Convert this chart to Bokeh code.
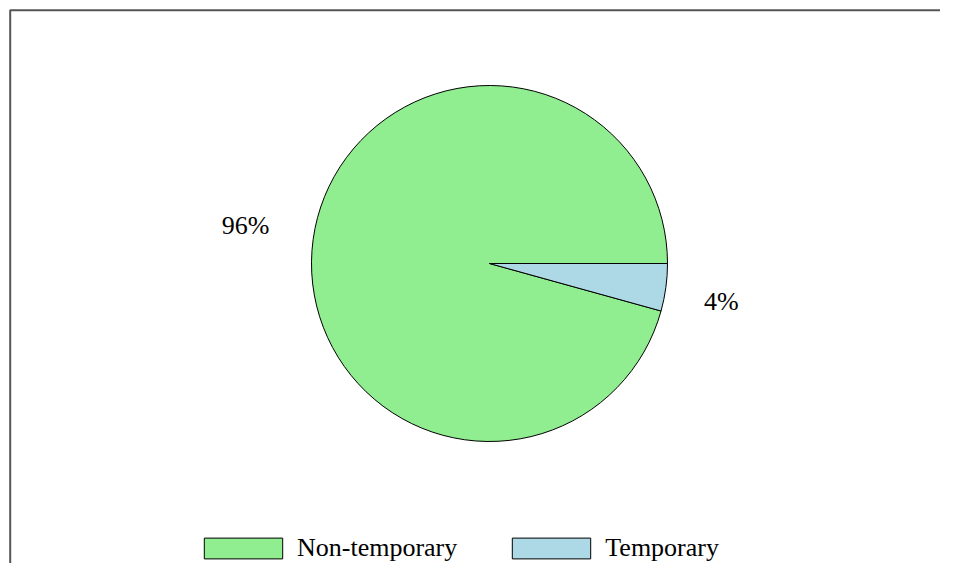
import math
from bokeh.plotting import figure
from bokeh.models import ColumnDataSource, Range1d, BoxAnnotation, Legend, LegendItem
from bokeh.core.properties import value
from bokeh.embed import file_html
from bokeh.resources import INLINE

categories = ["Non-temporary", "Temporary"]
values = [95.7, 4.3]
colors = ["#90EE90", "#ADD8E6"]

W, H = 940, 563
CX, CY = 489, 263          # pie centre in plot pixels (from left / top)
R = 178
LABEL_RX, LABEL_RY = 240, 280
FONT = "Liberation Serif"

total = float(sum(values))
starts, ends, mids = [], [], []
acc = 0.0
for v in values:
    a0 = 2 * math.pi * acc / total
    acc += v
    a1 = 2 * math.pi * acc / total
    starts.append(a0)
    ends.append(a1)
    mids.append((a0 + a1) / 2)

labels = ["%d%%" % round(100 * v / total) for v in values]
lx = [LABEL_RX * math.cos(m) for m in mids]
ly = [LABEL_RY * math.sin(m) for m in mids]

src = ColumnDataSource(dict(cat=categories, val=values, color=colors,
                            start=starts, end=ends, lx=lx, ly=ly, label=labels))

x0, x1 = -CX, W - CX
y1, y0 = CY, CY - H

p = figure(width=W, height=H, x_range=Range1d(x0, x1), y_range=Range1d(y0, y1),
           output_backend="svg", toolbar_location=None, min_border=0,
           match_aspect=False)
p.axis.visible = False
p.grid.visible = False
p.outline_line_color = None
p.background_fill_color = "white"

# page border: only top and left edges fall inside the window
p.add_layout(BoxAnnotation(left=x0 + 9.7, top=y1 - 9.7, right=x1 + 50, bottom=y0 - 50,
                           fill_alpha=0, line_color="#555555", line_alpha=1.0,
                           line_width=2))

wedges = p.wedge(x=0, y=0, radius=R, start_angle="start", end_angle="end",
                 fill_color="color", line_color="black", line_width=1, source=src)

p.text(x="lx", y="ly", text="label", source=src, text_align="center",
       text_baseline="middle", text_font=value(FONT), text_font_size="26px",
       text_color="black", x_offset=-6)

items = [LegendItem(label=c, renderers=[wedges], index=i) for i, c in enumerate(categories)]
legend = Legend(items=items, orientation="horizontal", location=(194, 0),
                glyph_width=98, glyph_height=26, label_standoff=5, spacing=45,
                label_text_font=FONT, label_text_font_size="26px",
                label_text_color="black", margin=0, padding=0,
                border_line_color=None, background_fill_alpha=0)
p.add_layout(legend, "center")

open("out.html", "w").write(file_html(p, INLINE))
